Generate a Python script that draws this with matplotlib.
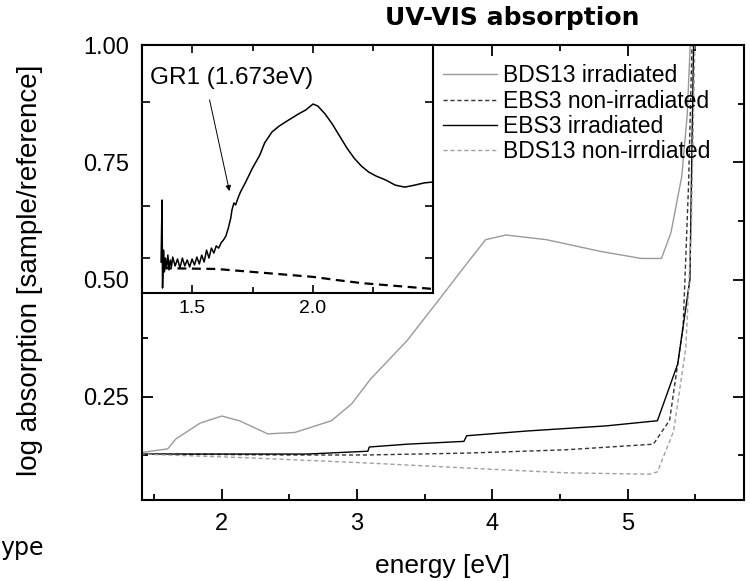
import matplotlib.pyplot as plt
from matplotlib.ticker import MultipleLocator

plt.rcParams['font.family'] = ['Liberation Sans', 'DejaVu Sans']

# main panel: energy [eV] vs log absorption
e_bds13_irr = [1.40, 1.60, 1.66, 1.84, 2.00, 2.13, 2.34, 2.54, 2.81, 2.96, 3.10, 3.37,
               3.60, 3.80, 3.95, 4.10, 4.40, 4.80, 5.10, 5.25, 5.32, 5.40, 5.44, 5.47]
a_bds13_irr = [0.131, 0.139, 0.160, 0.194, 0.209, 0.199, 0.171, 0.174, 0.199, 0.235, 0.288, 0.370,
               0.455, 0.530, 0.585, 0.595, 0.585, 0.560, 0.545, 0.545, 0.600, 0.720, 0.850, 1.050]

e_ebs3_non = [1.40, 2.00, 2.49, 3.07, 3.81, 4.54, 5.19, 5.31, 5.41, 5.45, 5.48]
a_ebs3_non = [0.128, 0.127, 0.126, 0.126, 0.130, 0.137, 0.149, 0.20, 0.40, 0.70, 1.05]

e_ebs3_irr = [1.40, 2.00, 2.63, 2.78, 3.08, 3.09, 3.37, 3.79, 3.81, 4.25, 4.84, 5.22,
              5.37, 5.46, 5.49]
a_ebs3_irr = [0.128, 0.128, 0.128, 0.130, 0.134, 0.143, 0.149, 0.155, 0.167, 0.177, 0.188, 0.199,
              0.320, 0.500, 1.050]

e_bds13_non = [1.40, 2.19, 3.07, 3.96, 4.54, 5.16, 5.22, 5.34, 5.43, 5.47, 5.50]
a_bds13_non = [0.128, 0.120, 0.109, 0.096, 0.088, 0.085, 0.090, 0.177, 0.355, 0.600, 1.050]

# inset: GR1 region (arb. units)
e_inset_irr = [1.372, 1.376, 1.378, 1.382, 1.386, 1.39, 1.395, 1.40, 1.405, 1.41, 1.415, 1.42,
               1.43, 1.44, 1.45, 1.46, 1.47, 1.48, 1.49, 1.50, 1.51, 1.52, 1.53, 1.54, 1.55,
               1.56, 1.57, 1.58, 1.59, 1.60, 1.61, 1.62, 1.63, 1.64, 1.65, 1.66, 1.665, 1.673,
               1.68, 1.69, 1.70, 1.72, 1.75, 1.78, 1.80, 1.83, 1.86, 1.90, 1.94, 1.97, 2.00,
               2.02, 2.05, 2.08, 2.11, 2.14, 2.17, 2.20, 2.23, 2.26, 2.30, 2.34, 2.38, 2.42,
               2.46, 2.50]
a_inset_irr = [0.125, 0.375, 0.020, 0.173, 0.085, 0.141, 0.101, 0.153, 0.093, 0.133, 0.105, 0.145,
               0.109, 0.137, 0.101, 0.141, 0.109, 0.133, 0.105, 0.137, 0.113, 0.145, 0.117, 0.153,
               0.125, 0.173, 0.141, 0.181, 0.161, 0.190, 0.181, 0.202, 0.214, 0.230, 0.262, 0.302,
               0.335, 0.363, 0.355, 0.383, 0.407, 0.444, 0.504, 0.556, 0.605, 0.649, 0.673, 0.698,
               0.722, 0.738, 0.762, 0.754, 0.722, 0.681, 0.633, 0.585, 0.544, 0.512, 0.488, 0.472,
               0.456, 0.435, 0.427, 0.435, 0.444, 0.448]
e_inset_non = [1.38, 1.60, 1.70, 1.80, 1.90, 2.00, 2.10, 2.20, 2.30, 2.40, 2.50]
a_inset_non = [0.100, 0.097, 0.089, 0.081, 0.073, 0.065, 0.052, 0.040, 0.032, 0.024, 0.016]

fig = plt.figure(figsize=(7.5, 5.81), dpi=100)
ax = fig.add_axes([0.1893, 0.1394, 0.8027, 0.7831])

ax.plot(e_bds13_irr, a_bds13_irr, color='#9a9a9a', lw=1.0, label='BDS13 irradiated')
ax.plot(e_ebs3_non, a_ebs3_non, color='#333333', lw=1.0, ls=(0, (3, 2)), label='EBS3 non-irradiated')
ax.plot(e_ebs3_irr, a_ebs3_irr, color='black', lw=1.0, label='EBS3 irradiated')
ax.plot(e_bds13_non, a_bds13_non, color='#a0a0a0', lw=1.0, ls=(0, (3, 2)), label='BDS13 non-irrdiated')

ax.set_xlim(1.41, 5.86)
ax.set_ylim(0.03, 1.0)
ax.xaxis.set_major_locator(MultipleLocator(1))
ax.xaxis.set_minor_locator(MultipleLocator(0.5))
ax.yaxis.set_major_locator(MultipleLocator(0.25))
ax.yaxis.set_minor_locator(MultipleLocator(0.125))
ax.tick_params(which='both', direction='in', top=True, right=True, width=1.3, labelsize=17)
ax.tick_params(which='major', length=8, pad=9)
ax.tick_params(which='minor', length=4)
ax.set_yticks([0.25, 0.5, 0.75, 1.0])
ax.set_yticklabels(['0.25', '0.50', '0.75', '1.00'])
for s in ax.spines.values():
    s.set_linewidth(1.5)
ax.set_xlabel('energy [eV]', fontsize=19)
ax.xaxis.set_label_coords(0.5, -0.118)
ax.set_ylabel('log absorption [sample/reference]', fontsize=20)
ax.yaxis.set_label_coords(-0.165, 0.505)

ax.legend(loc='upper left', bbox_to_anchor=(0.5907, 0.889), bbox_transform=fig.transFigure,
          frameon=False, fontsize=16.5, handlelength=2.35, handletextpad=0.28,
          labelspacing=0.1, borderpad=0, borderaxespad=0)

ins = fig.add_axes([0.1893, 0.4957, 0.388, 0.4268])
ins.plot(e_inset_irr, a_inset_irr, color='black', lw=1.1)
ins.plot(e_inset_non, a_inset_non, color='black', lw=1.6, ls=(0, (4, 2.5)))
ins.set_xlim(1.293, 2.496)
ins.set_ylim(0, 1)
ins.set_xticks([1.5, 2.0])
ins.set_xticklabels(['1.5', '2.0'])
ins.xaxis.set_minor_locator(MultipleLocator(0.25))
ins.set_yticks([0.14, 0.35, 0.77])
ins.set_yticklabels([])
ins.tick_params(which='both', direction='in', top=True, right=True, width=1.2, labelsize=14)
ins.tick_params(which='major', length=6, pad=5)
ins.tick_params(which='minor', length=4)
for s in ins.spines.values():
    s.set_linewidth(1.5)
ins.text(1.326, 0.867, 'GR1 (1.673eV)', fontsize=17.5, va='center', ha='left')
ins.annotate('', xy=(1.657, 0.40), xytext=(1.570, 0.79),
             arrowprops=dict(arrowstyle='-|>', lw=0.7, color='black', mutation_scale=8))

fig.text(0.683, 0.969, 'UV-VIS absorption', fontsize=18, fontweight='bold',
         ha='center', va='center', family=['DejaVu Sans'])
fig.text(0.0, 0.057, 'ype', fontsize=17, ha='left', va='center', family=['DejaVu Sans'])

fig.savefig('out.png', dpi=100)
